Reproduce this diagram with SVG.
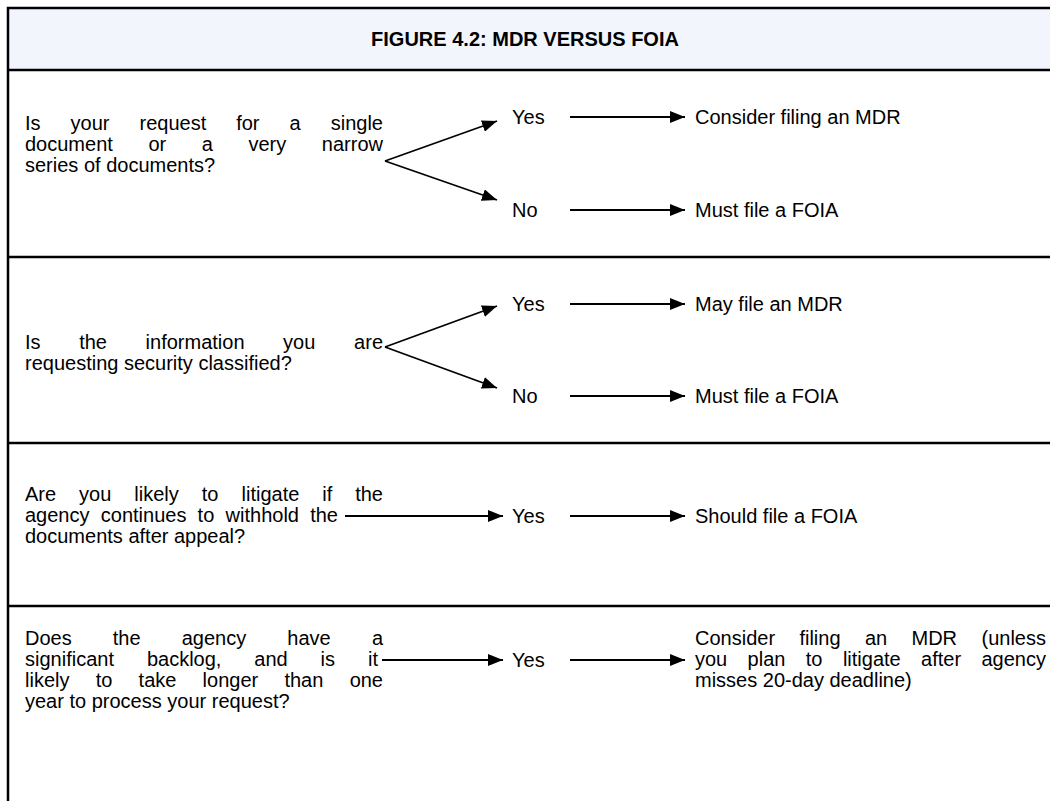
<svg xmlns="http://www.w3.org/2000/svg" width="1050" height="801" viewBox="0 0 1050 801">
<style>
.t{font-family:"Liberation Sans",Arial,sans-serif;font-size:20px;fill:#000}
.title{font-family:"Liberation Sans",Arial,sans-serif;font-size:20px;font-weight:bold;fill:#000}
.e{text-anchor:end}
.frame{stroke:#000;stroke-width:2.5;fill:none}
.c{stroke:#000;stroke-width:1.8;fill:none;marker-end:url(#ah)}
</style>
<defs>
<marker id="ah" markerUnits="userSpaceOnUse" markerWidth="16" markerHeight="12" refX="15" refY="6" orient="auto">
<path d="M0,0 L15,6 L0,12 z" fill="#000"/>
</marker>
</defs>
<rect width="1050" height="801" fill="#fff"/>
<g id="frame">
<rect x="8" y="8" width="1042" height="62" fill="#F2F6FC"/>
<path class="frame" d="M8,801 V8 H1050 M8,70 H1050 M8,257 H1050 M8,443 H1050 M8,606 H1050"/>
</g>
<g id="title"><text class="title" x="525" y="46" text-anchor="middle">FIGURE 4.2: MDR VERSUS FOIA</text></g>

<g id="q1">
<text class="t" y="130"><tspan x="25">Is</tspan><tspan x="70.6">your</tspan><tspan x="139.5">request</tspan><tspan x="236.2">for</tspan><tspan x="289.5">a</tspan></text>
<text class="t e" x="383" y="130">single</text>
<text class="t" y="151"><tspan x="25">document</tspan><tspan x="148.4">or</tspan><tspan x="201.8">a</tspan><tspan x="248.5">very</tspan></text>
<text class="t e" x="383" y="151">narrow</text>
<text class="t" x="25" y="172">series of documents?</text>
</g>
<g id="a1yes"><text class="t" x="512" y="124">Yes</text></g>
<g id="a1no"><text class="t" x="512" y="217">No</text></g>
<g id="r1yes"><text class="t" x="695" y="124">Consider filing an MDR</text></g>
<g id="r1no"><text class="t" x="695" y="217">Must file a FOIA</text></g>

<g id="q2">
<text class="t" y="349"><tspan x="25">Is</tspan><tspan x="79.2">the</tspan><tspan x="145.6">information</tspan><tspan x="283.1">you</tspan></text>
<text class="t e" x="383" y="349">are</text>
<text class="t" x="25" y="370">requesting security classified?</text>
</g>
<g id="a2yes"><text class="t" x="512" y="311">Yes</text></g>
<g id="a2no"><text class="t" x="512" y="403">No</text></g>
<g id="r2yes"><text class="t" x="695" y="311">May file an MDR</text></g>
<g id="r2no"><text class="t" x="695" y="403">Must file a FOIA</text></g>

<g id="q3">
<text class="t" y="501"><tspan x="25">Are</tspan><tspan x="79.1">you</tspan><tspan x="134.3">likely</tspan><tspan x="201.8">to</tspan><tspan x="241.5">litigate</tspan><tspan x="322.3">if</tspan></text>
<text class="t e" x="383" y="501">the</text>
<text class="t" y="522"><tspan x="25">agency</tspan><tspan x="100.8">continues</tspan><tspan x="197.6">to</tspan><tspan x="225.6">withhold</tspan></text>
<text class="t e" x="338" y="522">the</text>
<text class="t" x="25" y="543">documents after appeal?</text>
</g>
<g id="a3yes"><text class="t" x="512" y="523">Yes</text></g>
<g id="r3yes"><text class="t" x="695" y="523">Should file a FOIA</text></g>

<g id="q4">
<text class="t" y="645"><tspan x="25">Does</tspan><tspan x="112.8">the</tspan><tspan x="181.7">agency</tspan><tspan x="287.3">have</tspan></text>
<text class="t e" x="383" y="645">a</text>
<text class="t" y="666"><tspan x="25">significant</tspan><tspan x="146.9">backlog,</tspan><tspan x="254.3">and</tspan><tspan x="320.6">is</tspan></text>
<text class="t e" x="378" y="666">it</text>
<text class="t" y="687"><tspan x="25">likely</tspan><tspan x="95.7">to</tspan><tspan x="138.6">take</tspan><tspan x="202.6">longer</tspan><tspan x="284.4">than</tspan></text>
<text class="t e" x="383" y="687">one</text>
<text class="t" x="25" y="708">year to process your request?</text>
</g>
<g id="a4yes"><text class="t" x="512" y="667">Yes</text></g>
<g id="r4yes">
<text class="t" y="645"><tspan x="695">Consider</tspan><tspan x="799.4">filing</tspan><tspan x="864.9">an</tspan><tspan x="911.5">MDR</tspan></text>
<text class="t e" x="1046" y="645">(unless</text>
<text class="t" y="666"><tspan x="695">you</tspan><tspan x="747.6">plan</tspan><tspan x="805.8">to</tspan><tspan x="842.9">litigate</tspan><tspan x="921.1">after</tspan></text>
<text class="t e" x="1046" y="666">agency</text>
<text class="t" x="695" y="687">misses 20-day deadline)</text>
</g>

<g id="connectors">
<path class="c" d="M385,161 L497,121"/>
<path class="c" d="M385,161 L497,200"/>
<path class="c" d="M570,117 H685"/>
<path class="c" d="M570,210 H685"/>
<path class="c" d="M385,347 L497,306"/>
<path class="c" d="M385,347 L497,388"/>
<path class="c" d="M570,304 H685"/>
<path class="c" d="M570,396 H685"/>
<path class="c" d="M345,516 H503"/>
<path class="c" d="M570,516 H685"/>
<path class="c" d="M382,660 H503"/>
<path class="c" d="M570,660 H685"/>
</g>
</svg>
